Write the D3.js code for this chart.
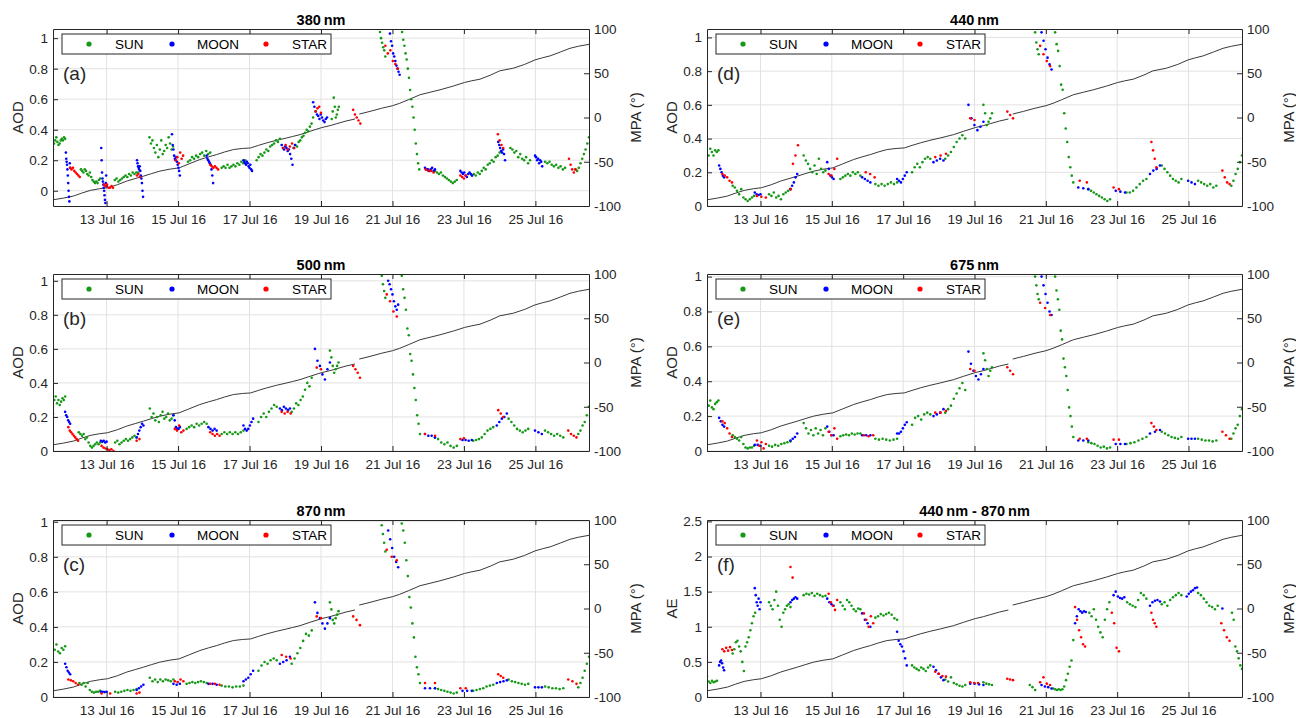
<!DOCTYPE html>
<html>
<head>
<meta charset="utf-8">
<script src="https://cdn.jsdelivr.net/npm/d3@7"></script>
<style>
body { margin: 0; background: #fff; }
svg { font-family: "Liberation Sans", Arial, sans-serif; }
</style>
</head>
<body>
<svg id="grafico" width="1296" height="718"></svg>
<script>
// dias de julho de 2016 (fração do dia = hora)
const diasTick = [13, 15, 17, 19, 21, 23, 25];
const ticksAOD = [0, 0.2, 0.4, 0.6, 0.8, 1];
const ticksAE = [0, 0.5, 1, 1.5, 2, 2.5];
const ticksMPA = [-100, -50, 0, 50, 100];

// ângulo de fase lunar (MPA), igual em todos os painéis; null = interrupção
const mpaDia = [11.5, 11.8, 12.07, 12.3, 12.54, 12.8, 13.02, 13.3, 13.56, 13.8, 14.03, 14.25, 14.49, 14.75, 15.03,
  15.3, 15.61, 15.85, 16.08, 16.3, 16.55, 16.8, 17.03, 17.25, 17.48, 17.75, 18.04, 18.2, 18.41, 18.7, 19.02,
  19.25, 19.44, 19.7, 19.95, 20.0, 20.07, 20.37, 20.7, 21.0, 21.2, 21.44, 21.77, 22.05, 22.33, 22.7, 23.01,
  23.2, 23.45, 23.75, 24.0, 24.38, 24.7, 24.99, 25.2, 25.41, 25.7, 25.97, 26.2, 26.5];
const mpaValor = [-93, -91, -88.8, -85.5, -82.4, -80.5, -79.4, -76, -71.9, -69, -66.3, -63.5, -60.6, -58.5, -56.9,
  -52.5, -47.5, -44.5, -41.9, -39, -36.2, -35, -34.4, -31.5, -28.7, -25.8, -23.1, -21.5, -19.4, -15.5, -11.4,
  -9.2, -7, -4, -1.7, null, 3.9, 6.9, 10.5, 13.3, 16, 20, 25.7, 28.5, 31.3, 35.5, 39.5,
  41.3, 43.3, 48, 52.7, 55.7, 60, 65.1, 67.5, 69.6, 74, 78.2, 80.5, 82.7];

// cada trecho: [dia inicial, dia final, valores medidos]
const sun380 = [
  [11.5, 11.84, [.27, .31, .33, .35, .32, .30, .31, .33, .34, .33, .35, .34]],
  [12.28, 12.82, [.14, .13, .12, .14, .13, .11, .10, .12, .09, .07, .06, .05, .06, .05, .07, .08]],
  [13.23, 13.88, [.07, .08, .06, .07, .08, .09, .10, .09, .11, .10, .12, .11, .12, .12]],
  [14.2, 14.86, [.35, .31, .33, .28, .25, .30, .22, .27, .33, .24, .26, .30, .28, .35, .31, .27, .29]],
  [15.28, 15.9, [.19, .20, .22, .21, .23, .22, .24, .25, .23, .26, .24, .25]],
  [16.22, 16.88, [.15, .16, .15, .17, .15, .16, .17, .16, .18, .17, .19, .18, .20]],
  [17.2, 17.85, [.20, .22, .24, .23, .25, .27, .26, .29, .30, .31, .33, .32, .34]],
  [18.24, 18.78, [.28, .30, .29, .32, .33, .35, .36, .38, .40, .39, .42, .44, .48]],
  [19.3, 19.5, [.47, .52, .61, .55, .48, .50, .53, .55]],
  [20.65, 20.8, [1.04, 1.0, .97, .94, .92, .88]],
  [21.27, 21.75, [1.04, .99, .95, .90, .86, .80, .74, .66, .60, .55, .48, .40, .31, .24, .18, .14]],
  [22.19, 22.8, [.13, .12, .11, .12, .10, .09, .08, .07, .06, .05, .06, .07]],
  [23.22, 24.0, [.10, .11, .10, .12, .11, .13, .15, .14, .17, .18, .20, .19, .22, .23, .25]],
  [24.3, 24.85, [.28, .27, .25, .26, .22, .24, .21, .20, .22, .18, .20]],
  [25.27, 25.83, [.19, .18, .19, .17, .16, .17, .15, .16, .14, .15]],
  [26.12, 26.5, [.14, .13, .15, .18, .21, .24, .27, .31, .35]]
];
const moon380 = [
  [11.86, 11.98, [.25, .21, .19, .17, .14, .10, .05, .0, -.04, -.07, .18, .15]],
  [12.85, 13.0, [.28, .2, .12, .08, .06, .04, .02, 0, -.03, -.06, -.08, .05, .1, .03]],
  [13.85, 14.02, [.2, .18, .16, .15, .14, .16, .13, .1, .08, .05, .0, -.04]],
  [14.83, 15.05, [.37, .3, .27, .23, .21, .2, .22, .19, .17, .15, .13, .1]],
  [15.8, 15.98, [.23, .21, .2, .19, .18, .17, .14, .1, .05]],
  [16.83, 17.07, [.2, .19, .18, .17, .19, .18, .16, .15, .17, .14, .13]],
  [17.9, 18.27, [.3, .28, .27, .29, .28, .26, .27, .24, .21, .17, .28, .3]],
  [18.78, 19.17, [.58, .55, .52, .5, .49, .47, .5, .48, .46, .45, .47, .48]],
  [20.93, 21.2, [1.03, .98, .95, .9, .88, .85, .82, .8, .78, .76]],
  [21.91, 22.19, [.15, .14, .14, .13, .14, .15, .13, .14]],
  [22.9, 23.23, [.13, .12, .11, .12, .1, .09, .11, .12, .11, .1]],
  [23.96, 24.15, [.32, .3, .28, .26, .25, .27, .24, .2]],
  [24.99, 25.19, [.23, .22, .2, .21, .18, .2, .19, .16]]
];
const star380 = [
  [11.98, 12.25, [.15, .14, .15, .13, .12, .11, .1, .09]],
  [12.93, 13.18, [.04, .03, .04, .02, .02, .03, .02]],
  [13.85, 13.93, [.1, .11, .09]],
  [14.94, 15.14, [.2, .22, .18, .25, .21, .23]],
  [15.9, 16.12, [.17, .16, .15, .16, .15, .14]],
  [17.95, 18.25, [.28, .3, .27, .29, .31, .28]],
  [18.85, 19.0, [.52, .54, .55, .51]],
  [19.9, 20.1, [.53, .5, .48, .46, .44]],
  [20.8, 21.15, [.95, .9, .92, .85, .83, .8]],
  [21.93, 22.15, [.14, .13, .13, .12]],
  [22.9, 23.05, [.1, .09, .08, .1]],
  [23.95, 24.1, [.37, .33, .3, .28]],
  [25.94, 26.12, [.21, .17, .14, .12, .14]]
];

const sun500 = [
  [11.5, 11.84, [.22, .30, .32, .28, .30, .27, .29, .31, .30, .32]],
  [12.22, 12.82, [.11, .10, .09, .10, .07, .08, .05, .03, .02, .03, .04, .05, .04, .05]],
  [13.24, 13.84, [.05, .06, .04, .05, .06, .07, .06, .07, .08, .09, .08]],
  [14.21, 14.87, [.25, .20, .22, .18, .20, .17, .21, .23, .19, .20, .22, .18, .19, .21]],
  [15.24, 15.8, [.13, .14, .15, .14, .16, .15, .16, .17, .16]],
  [16.22, 16.83, [.10, .11, .10, .11, .10, .11, .10, .11, .12]],
  [17.25, 17.76, [.17, .20, .22, .20, .23, .25, .27, .26]],
  [18.18, 18.74, [.23, .25, .28, .27, .30, .32, .36, .40, .38, .43]],
  [19.25, 19.49, [.59, .55, .50, .46, .48, .50, .52]],
  [20.7, 20.8, [1.03, .98, .94, .90]],
  [21.26, 21.77, [1.03, .95, .90, .83, .72, .68, .57, .53, .45, .37, .30, .21, .16, .10]],
  [22.19, 22.8, [.08, .07, .05, .04, .05, .03, .02, .03]],
  [23.26, 23.82, [.06, .065, .07, .08, .1, .12, .13, .14]],
  [24.25, 24.8, [.19, .17, .15, .13, .12, .11, .12, .13]],
  [25.27, 25.78, [.12, .11, .10, .09, .10, .09, .08]],
  [26.2, 26.5, [.10, .12, .15, .17, .21, .26]]
];
const moon500 = [
  [11.84, 11.98, [.23, .21, .2, .18, .17, .16]],
  [12.84, 13.0, [.06, .055, .06, .05, .055]],
  [13.84, 14.03, [.08, .1, .12, .14, .16, .15]],
  [14.87, 15.05, [.21, .18, .14, .13, .13, .14]],
  [15.85, 16.08, [.14, .13, .12, .13, .12]],
  [16.83, 17.1, [.15, .13, .12, .13, .15, .17, .19]],
  [17.85, 18.13, [.25, .24, .26, .25, .24, .25]],
  [18.83, 19.25, [.6, .53, .5, .45, .42, .48, .52]],
  [20.88, 21.16, [1.0, .98, .95, .92, .88, .85, .83, .86]],
  [21.91, 22.19, [.1, .09, .09, .08]],
  [22.96, 23.22, [.065, .065, .06, .065]],
  [23.92, 24.2, [.15, .17, .19, .2, .22]],
  [24.99, 25.18, [.12, .11, .1]]
];
const star500 = [
  [11.93, 12.2, [.14, .12, .11, .1, .09, .08, .07, .06]],
  [12.86, 13.19, [.03, .02, .015, .01, .005, .01, 0]],
  [13.84, 13.92, [.06, .07]],
  [14.91, 15.15, [.13, .12, .15, .11, .12]],
  [15.9, 16.16, [.11, .1, .09, .1, .09]],
  [17.9, 18.15, [.23, .22, .23, .22]],
  [18.88, 19.0, [.49, .48]],
  [19.9, 20.09, [.5, .48, .46, .43]],
  [20.84, 21.12, [.92, .88, .82, .79]],
  [21.91, 22.19, [.1, .09]],
  [22.9, 23.0, [.07, .075]],
  [23.96, 24.1, [.24, .22, .2]],
  [25.92, 26.15, [.12, .1, .09, .08]]
];

const sun870 = [
  [11.5, 11.84, [.2, .27, .30, .26, .25, .28, .27, .29]],
  [12.24, 12.82, [.08, .07, .08, .06, .08, .04, .03, .025, .03, .03, .035]],
  [13.24, 13.84, [.03, .025, .03, .035, .04, .035, .04, .045]],
  [14.21, 14.87, [.11, .09, .10, .085, .10, .09, .10, .095, .09, .10]],
  [15.24, 15.8, [.075, .08, .085, .08, .085, .09, .085, .08]],
  [16.22, 16.83, [.065, .06, .06, .055, .06, .06, .065]],
  [17.25, 17.76, [.15, .18, .20, .19, .21, .22, .21]],
  [18.18, 18.74, [.19, .22, .25, .28, .32, .36, .35, .38]],
  [19.25, 19.49, [.54, .50, .44, .42, .45, .47, .49]],
  [20.7, 20.8, [.98, .93, .88, .83]],
  [21.26, 21.77, [.99, .95, .88, .78, .69, .57, .51, .42, .34, .23, .17, .13, .08]],
  [22.19, 22.8, [.05, .045, .04, .035, .03, .025, .02, .025]],
  [23.26, 23.82, [.035, .04, .045, .05, .06, .065, .07]],
  [24.25, 24.8, [.1, .09, .085, .08, .075, .07, .075]],
  [25.27, 25.78, [.06, .055, .05, .05, .045, .05]],
  [26.2, 26.5, [.055, .08, .11, .15, .19, .23]]
];
const moon870 = [
  [11.84, 11.98, [.19, .17, .15, .14, .13]],
  [12.84, 13.0, [.03, .03, .028, .03]],
  [13.84, 14.03, [.04, .05, .06, .07]],
  [14.87, 15.05, [.075, .07, .075]],
  [15.85, 16.08, [.075, .075, .07]],
  [16.83, 17.1, [.09, .1, .11, .13, .15]],
  [17.85, 18.13, [.19, .2, .21, .23]],
  [18.83, 19.25, [.54, .48, .45, .42, .39, .42, .45]],
  [20.88, 21.16, [.95, .9, .85, .8, .77, .74]],
  [21.91, 22.19, [.05, .05, .05]],
  [22.96, 23.22, [.035, .035, .035]],
  [23.92, 24.2, [.08, .085, .09, .095]],
  [24.99, 25.18, [.055, .055, .055]]
];
const star870 = [
  [11.93, 12.2, [.1, .095, .09, .08, .07]],
  [12.86, 13.1, [.02, .02]],
  [13.84, 13.92, [.02, .025]],
  [14.91, 15.15, [.09, .085, .1, .09]],
  [15.9, 16.16, [.075, .075, .07]],
  [17.9, 18.15, [.24, .23, .22]],
  [18.88, 19.0, [.46, .45]],
  [19.9, 20.09, [.46, .44, .41]],
  [20.84, 21.12, [.84, .8, .78]],
  [21.91, 22.19, [.08, .08]],
  [22.9, 23.05, [.05, .05]],
  [23.96, 24.1, [.13, .12, .11]],
  [25.92, 26.15, [.1, .09, .075]]
];

const sun440 = [
  [11.5, 11.82, [.25, .3, .34, .32, .3, .33, .32, .33]],
  [12.22, 12.82, [.12, .11, .09, .07, .1, .05, .04, .03, .04, .05, .06]],
  [13.24, 13.84, [.07, .06, .08, .05, .06, .04, .07, .08, .09, .1]],
  [14.21, 14.82, [.3, .27, .25, .22, .2, .24, .19, .28, .22, .2, .21]],
  [15.24, 15.8, [.16, .17, .18, .19, .18, .2, .19, .2, .18]],
  [16.22, 16.83, [.13, .12, .13, .12, .13, .14, .13, .14]],
  [17.25, 17.76, [.2, .23, .25, .23, .26, .28, .29, .28]],
  [18.18, 18.74, [.28, .3, .32, .35, .38, .4, .42, .4]],
  [19.25, 19.49, [.6, .55, .48, .5, .52, .55]],
  [20.7, 20.8, [1.03, .97, .93, .9]],
  [21.26, 21.77, [1.03, .96, .92, .83, .72, .69, .55, .46, .38, .29, .23, .18, .14]],
  [22.19, 22.8, [.1, .09, .08, .07, .06, .05, .04, .03, .04]],
  [23.26, 23.82, [.08, .08, .09, .11, .13, .15, .16]],
  [24.25, 24.8, [.24, .22, .2, .18, .16, .15, .14, .16]],
  [25.27, 25.78, [.15, .14, .13, .12, .13, .11, .12]],
  [26.2, 26.5, [.12, .15, .19, .22, .26, .3]]
];
const moon440 = [
  [11.84, 11.98, [.24, .22, .2, .18, .17]],
  [12.84, 13.0, [.08, .07, .065, .07]],
  [13.84, 14.03, [.1, .12, .14, .17, .19]],
  [14.87, 15.05, [.26, .22, .18, .17, .16]],
  [15.85, 16.08, [.17, .16, .15, .14]],
  [16.83, 17.1, [.16, .15, .14, .16, .18, .2]],
  [17.85, 18.13, [.26, .27, .28, .27]],
  [18.83, 19.25, [.6, .52, .48, .45, .47, .5]],
  [20.88, 21.16, [1.03, .98, .93, .88, .84, .81]],
  [21.91, 22.19, [.11, .105, .1]],
  [22.96, 23.22, [.09, .085, .08]],
  [23.92, 24.2, [.19, .21, .22, .24]],
  [24.99, 25.18, [.15, .14, .13]]
];
const star440 = [
  [11.93, 12.2, [.19, .18, .17, .15, .14]],
  [12.9, 13.15, [.06, .055, .05]],
  [13.84, 14.05, [.1, .25, .3, .36]],
  [14.91, 15.15, [.19, .18, .22, .28]],
  [15.95, 16.2, [.2, .19, .17]],
  [17.9, 18.2, [.29, .3, .31]],
  [18.88, 19.0, [.52, .51]],
  [19.92, 20.08, [.56, .54, .52]],
  [20.84, 21.12, [.95, .9, .86, .83]],
  [21.95, 22.15, [.15, .14]],
  [22.9, 23.05, [.11, .1]],
  [23.96, 24.1, [.38, .33, .28, .23]],
  [25.95, 26.15, [.21, .17, .14, .13]]
];

const sun675 = [
  [11.5, 11.82, [.2, .26, .29, .25, .24, .27, .28, .29]],
  [12.22, 12.82, [.09, .08, .07, .06, .08, .04, .02, .015, .02, .02, .03]],
  [13.24, 13.84, [.03, .025, .035, .03, .04, .045, .05, .055]],
  [14.21, 14.82, [.16, .13, .1, .12, .09, .13, .1, .12, .09, .13]],
  [15.24, 15.8, [.085, .09, .095, .09, .1, .095, .1, .1]],
  [16.22, 16.83, [.07, .065, .07, .065, .06, .065, .07]],
  [17.25, 17.76, [.15, .19, .2, .18, .21, .22, .21]],
  [18.18, 18.74, [.22, .24, .26, .3, .33, .36, .39, .35]],
  [19.25, 19.49, [.56, .52, .47, .43, .46, .48]],
  [20.7, 20.8, [1.0, .95, .9, .87]],
  [21.26, 21.77, [1.0, .92, .87, .81, .69, .64, .53, .48, .43, .35, .25, .2, .14, .08]],
  [22.19, 22.8, [.05, .045, .04, .03, .02, .025, .015, .02]],
  [23.26, 23.82, [.04, .045, .05, .06, .07, .08]],
  [24.25, 24.8, [.11, .1, .09, .08, .075, .07, .08]],
  [25.27, 25.78, [.07, .065, .06, .06, .055, .06]],
  [26.2, 26.5, [.07, .1, .13, .15, .2, .24]]
];
const moon675 = [
  [11.84, 11.98, [.19, .17, .15, .14]],
  [12.84, 13.0, [.035, .035, .03]],
  [13.84, 14.03, [.06, .07, .08, .1]],
  [14.87, 15.05, [.14, .11, .09, .09]],
  [15.85, 16.08, [.09, .09, .09]],
  [16.83, 17.1, [.1, .1, .11, .13, .15, .165]],
  [17.85, 18.13, [.2, .21, .22, .24]],
  [18.83, 19.25, [.57, .5, .46, .43, .41, .44, .47]],
  [20.88, 21.16, [1.0, .95, .9, .85, .8, .78]],
  [21.91, 22.19, [.06, .06, .06]],
  [22.96, 23.22, [.04, .04, .04]],
  [23.92, 24.2, [.1, .11, .12]],
  [24.99, 25.18, [.07, .07, .07]]
];
const star675 = [
  [11.93, 12.2, [.17, .16, .13, .1, .08]],
  [12.9, 13.15, [.06, .03, .05, .015, .04]],
  [14.91, 15.15, [.11, .09, .13, .07]],
  [15.9, 16.16, [.09, .085, .09]],
  [17.9, 18.2, [.22, .22, .23]],
  [18.88, 19.0, [.47, .46]],
  [19.92, 20.08, [.48, .46, .44]],
  [20.84, 21.12, [.85, .82, .78]],
  [21.95, 22.15, [.07, .07]],
  [22.9, 23.05, [.065, .065]],
  [23.96, 24.1, [.16, .14, .12]],
  [25.95, 26.15, [.11, .09, .07]]
];

const sunAE = [
  [11.5, 11.78, [.3, .22, .2, .23, .21, .22, .23]],
  [12.22, 12.85, [.62, .68, .78, .8, .72, .65, .5, .37, .72, .78, .85, .95, 1.05, 1.15, 1.2]],
  [13.24, 13.84, [1.35, 1.3, 1.25, 1.38, 1.5, 1.3, 1.1, 1.0, 1.2, 1.25, 1.3, 1.32, 1.28]],
  [14.21, 14.82, [1.45, 1.47, 1.46, 1.48, 1.44, 1.47, 1.45, 1.43, 1.44]],
  [15.24, 15.8, [1.35, 1.3, 1.25, 1.38, 1.35, 1.3, 1.25, 1.22, 1.26, 1.25]],
  [16.22, 16.83, [1.13, 1.15, 1.18, 1.16, 1.18, 1.2, 1.17, 1.12, 1.1]],
  [17.25, 17.76, [.45, .42, .4, .38, .42, .4, .37, .42, .45]],
  [18.18, 18.74, [.25, .22, .28, .2, .18, .16, .15, .17]],
  [19.25, 19.49, [.21, .19, .18, .17]],
  [20.55, 20.7, [.17, .14, .1]],
  [21.21, 21.77, [.12, .11, .1, .11, .1, .11, .15, .24, .33, .43, .52, .81]],
  [22.22, 22.78, [1.2, 1.15, 1.25, 1.1, 1.0, .92, .85, 1.1, 1.25, 1.35]],
  [23.28, 23.82, [1.35, 1.32, 1.3, 1.28, 1.38, 1.48, 1.45, 1.4]],
  [24.25, 24.8, [1.32, 1.35, 1.3, 1.38, 1.42, 1.45, 1.48, 1.45]],
  [25.27, 25.82, [1.48, 1.45, 1.4, 1.35, 1.3, 1.28, 1.25, 1.3]],
  [26.22, 26.5, [1.2, 1.1, .72, .65, .55, .45, .4]]
];
const moonAE = [
  [11.84, 11.98, [.45, .5, .52, .48, .42, .38]],
  [12.84, 13.0, [1.55, 1.45, 1.35, 1.3, 1.4, 1.25, 1.35]],
  [13.84, 14.03, [1.35, 1.38, 1.4, 1.42, 1.4]],
  [14.87, 15.05, [1.4, 1.35, 1.32, 1.3]],
  [15.85, 16.08, [1.19, 1.1, 1.05, 1.0]],
  [16.83, 17.1, [.93, .8, .75, .72, .65, .55, .45]],
  [17.85, 18.13, [.43, .38, .33, .28, .24]],
  [18.88, 19.25, [.19, .19, .18, .17]],
  [20.88, 21.16, [.17, .15, .14, .12]],
  [21.82, 22.12, [1.05, 1.15, 1.25, 1.22, 1.2, 1.22, 1.21]],
  [22.9, 23.2, [1.45, 1.5, 1.43, 1.41, 1.4, 1.42]],
  [23.92, 24.2, [1.3, 1.35, 1.37, 1.38, 1.36]],
  [24.95, 25.24, [1.43, 1.47, 1.5, 1.52, 1.55, 1.56]],
  [25.95, 25.95, [1.26]]
];
const starAE = [
  [11.93, 12.2, [.68, .65, .7, .66, .71, .67]],
  [13.84, 13.9, [1.85, 1.7]],
  [14.91, 15.15, [1.47, 1.35, 1.3, 1.24, 1.38]],
  [15.9, 16.16, [1.19, 1.1, 1.0, 1.15, 1.05]],
  [17.9, 18.2, [.36, .33, .3, .29]],
  [18.88, 19.1, [.21, .2, .2]],
  [19.92, 20.08, [.26, .25, .24]],
  [20.84, 21.12, [.21, .28, .19, .17]],
  [21.82, 22.1, [1.28, 1.1, .95, .85, .75, .72]],
  [22.85, 23.05, [1.2, 1.05, .7, .65]],
  [23.96, 24.1, [1.2, 1.1, 1.05, 1.0]],
  [25.92, 26.15, [1.05, .95, .85, .8]]
];

// layout dos painéis
const paineis = [
  { titulo: "380\u2009nm", letra: "(a)", rotulo: "AOD", dominio: [-0.1, 1.06], ticks: ticksAOD, sol: sun380, lua: moon380, estrela: star380, x: 53, y: 29, w: 536 },
  { titulo: "500\u2009nm", letra: "(b)", rotulo: "AOD", dominio: [0, 1.04], ticks: ticksAOD, sol: sun500, lua: moon500, estrela: star500, x: 53, y: 274, w: 536 },
  { titulo: "870\u2009nm", letra: "(c)", rotulo: "AOD", dominio: [0, 1.01], ticks: ticksAOD, sol: sun870, lua: moon870, estrela: star870, x: 53, y: 520, w: 536 },
  { titulo: "440\u2009nm", letra: "(d)", rotulo: "AOD", dominio: [0, 1.05], ticks: ticksAOD, sol: sun440, lua: moon440, estrela: star440, x: 707, y: 29, w: 535 },
  { titulo: "675\u2009nm", letra: "(e)", rotulo: "AOD", dominio: [0, 1.015], ticks: ticksAOD, sol: sun675, lua: moon675, estrela: star675, x: 707, y: 274, w: 535 },
  { titulo: "440\u2009nm - 870\u2009nm", letra: "(f)", rotulo: "AE", dominio: [0, 2.52], ticks: ticksAE, sol: sunAE, lua: moonAE, estrela: starAE, x: 707, y: 520, w: 535 }
];

const H = 177;
const corSol = "#159915", corLua = "#0000ff", corEstrela = "#ff0000";
const corEixo = "#262626";

function dia(t) {
  return new Date(Date.UTC(2016, 6, 1) + (t - 1) * 864e5);
}

// transforma os trechos em pontos (valores espaçados no tempo do trecho)
function pontos(trechos) {
  let lista = [];
  trechos.forEach(function(tr) {
    let n = tr[2].length;
    tr[2].forEach(function(v, i) {
      let t = n > 1 ? tr[0] + i * (tr[1] - tr[0]) / (n - 1) : tr[0];
      lista.push({ t: t, v: v });
    });
  });
  return lista;
}

const svg = d3.select("#grafico");

function estilizaEixo(sel) {
  sel.attr("font-family", null).attr("font-size", null);
  sel.selectAll("text").attr("fill", corEixo).style("font-size", "13.5px");
  sel.selectAll("line").attr("stroke", corEixo);
  sel.select(".domain").attr("stroke", corEixo);
}

paineis.forEach(function(p, idx) {
  let g = svg.append("g").attr("transform", "translate(" + p.x + "," + p.y + ")");
  let x = d3.scaleUtc().domain([dia(11.5), dia(26.5)]).range([0, p.w]);
  let y = d3.scaleLinear().domain(p.dominio).range([H, 0]);
  let y2 = d3.scaleLinear().domain([-100, 100]).range([H, 0]);

  // grade
  g.append("g").selectAll("line")
    .data(diasTick)
    .join("line")
    .attr("x1", d => x(dia(d))).attr("x2", d => x(dia(d)))
    .attr("y1", 0).attr("y2", H)
    .attr("stroke", "#e2e2e2");
  g.append("g").selectAll("line")
    .data(p.ticks)
    .join("line")
    .attr("x1", 0).attr("x2", p.w)
    .attr("y1", d => y(d)).attr("y2", d => y(d))
    .attr("stroke", "#e2e2e2");

  let clipId = "clip" + idx;
  g.append("clipPath").attr("id", clipId)
    .append("rect").attr("width", p.w).attr("height", H);
  let area = g.append("g").attr("clip-path", "url(#" + clipId + ")");

  // linha do MPA
  let linha = d3.line()
    .defined(d => d.v !== null)
    .x(d => x(dia(d.t)))
    .y(d => y2(d.v));
  area.append("path")
    .datum(mpaDia.map((t, i) => ({ t: t, v: mpaValor[i] })))
    .attr("d", linha)
    .attr("fill", "none")
    .attr("stroke", "#3a3a3a")
    .attr("stroke-width", 1);

  // pontos
  [[p.sol, corSol], [p.lua, corLua], [p.estrela, corEstrela]].forEach(function(s) {
    area.append("g").selectAll("circle")
      .data(pontos(s[0]))
      .join("circle")
      .attr("cx", d => x(dia(d.t)))
      .attr("cy", d => y(d.v))
      .attr("r", 1.3)
      .attr("fill", s[1]);
  });

  // eixos
  let eixoX = g.append("g").attr("transform", "translate(0," + H + ")")
    .call(d3.axisBottom(x).tickValues(diasTick.map(dia))
      .tickFormat(d3.utcFormat("%d %b %y"))
      .tickSizeInner(-5).tickSizeOuter(0).tickPadding(8.5));
  estilizaEixo(eixoX);
  let eixoTopo = g.append("g")
    .call(d3.axisTop(x).tickValues(diasTick.map(dia)).tickFormat("")
      .tickSizeInner(-5).tickSizeOuter(0));
  estilizaEixo(eixoTopo);
  let eixoY = g.append("g")
    .call(d3.axisLeft(y).tickValues(p.ticks).tickFormat(d => String(d))
      .tickSizeInner(-5).tickSizeOuter(0).tickPadding(5));
  estilizaEixo(eixoY);
  let eixoY2 = g.append("g").attr("transform", "translate(" + p.w + ",0)")
    .call(d3.axisRight(y2).tickValues(ticksMPA).tickFormat(d => String(d))
      .tickSizeInner(-5).tickSizeOuter(0).tickPadding(5));
  estilizaEixo(eixoY2);

  // textos
  g.append("text")
    .attr("x", p.w / 2).attr("y", -4)
    .attr("text-anchor", "middle")
    .attr("font-weight", "bold")
    .style("font-size", "14.5px")
    .attr("fill", "#000")
    .text(p.titulo);
  g.append("text")
    .attr("transform", "translate(-35," + (H / 2) + ") rotate(-90)")
    .attr("text-anchor", "middle").attr("dy", "0.35em")
    .style("font-size", "15px").attr("fill", corEixo)
    .text(p.rotulo);
  g.append("text")
    .attr("transform", "translate(" + (p.w + 47) + "," + (H / 2) + ") rotate(-90)")
    .attr("text-anchor", "middle").attr("dy", "0.35em")
    .style("font-size", "15px").attr("fill", corEixo)
    .text("MPA (°)");
  g.append("text")
    .attr("x", 10).attr("y", 51)
    .style("font-size", "19px").attr("fill", corEixo)
    .text(p.letra);

  // legenda
  let leg = g.append("g").attr("transform", "translate(9,5)");
  leg.append("rect")
    .attr("width", 269).attr("height", 20)
    .attr("fill", "#fff").attr("stroke", corEixo).attr("stroke-width", 1);
  let itens = [["SUN", corSol, 27, 53], ["MOON", corLua, 110, 135], ["STAR", corEstrela, 204, 230]];
  itens.forEach(function(it) {
    leg.append("circle").attr("cx", it[2]).attr("cy", 10).attr("r", 2.6).attr("fill", it[1]);
    leg.append("text").attr("x", it[3]).attr("y", 15.3)
      .style("font-size", "13.5px").attr("fill", "#000").text(it[0]);
  });
});
</script>
</body>
</html>
